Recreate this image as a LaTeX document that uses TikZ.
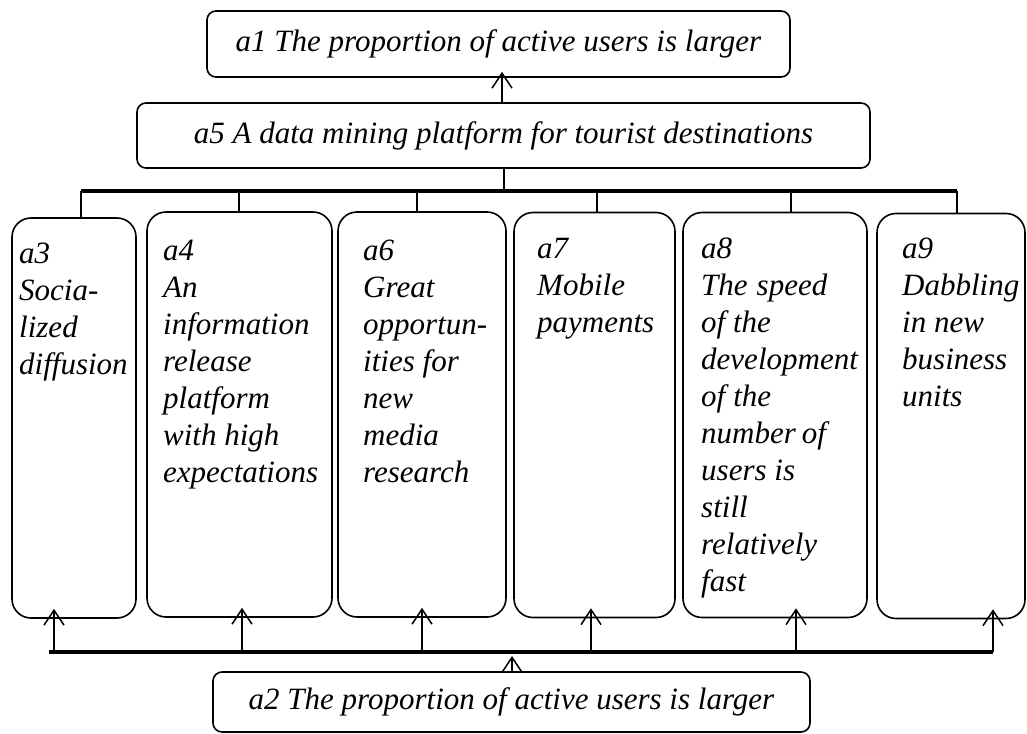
\documentclass[tikz,border=0pt]{standalone}
\usepackage{fontspec}
\setmainfont{Liberation Serif}
\usetikzlibrary{arrows.meta}
\begin{document}
\begin{tikzpicture}[x=1pt,y=-1pt,
  every node/.style={font=\fontsize{31}{37}\selectfont\itshape},
  wide/.style={draw, line width=1.6pt, rounded corners=9pt, inner sep=0pt},
  tall/.style={draw, line width=1.6pt, rounded corners=19pt, inner sep=0pt, minimum height=405pt},
  txt/.style={align=left, inner sep=0pt, anchor=north west},
  bus/.style={line width=3.2pt},
  tick/.style={line width=2.2pt},
  arr/.style={line width=1.5pt, -{Straight Barb[length=15pt,width=20pt,line width=1.5pt]}}
]
\useasboundingbox (0,0) rectangle (1027,733);

% top boxes
\node[wide, minimum width=583pt, minimum height=66pt] (a1) at (498.5,44) {a1 The proportion of active users is larger};
\node[wide, minimum width=733pt, minimum height=65pt] (a5) at (503.5,135.5) {a5 A data mining platform for tourist destinations};

% tall boxes
\node[tall, minimum width=124pt, minimum height=400pt] (a3) at (74,418) {};
\node[tall, minimum width=185pt] (a4) at (239.5,414.5) {};
\node[tall, minimum width=168pt] (a6) at (422,414.5) {};
\node[tall, minimum width=161pt] (a7) at (594.5,415) {};
\node[tall, minimum width=184pt] (a8) at (775,415) {};
\node[tall, minimum width=148pt] (a9) at (951,416) {};

\node[txt] (t3) at (19,243) {a3\\Socia-\\lized\\diffusion};
\node[txt] (t4) at (163,240) {a4\\An\\information\\release\\platform\\with high\\expectations};
\node[txt] (t6) at (363,240) {a6\\Great\\opportun-\\ities for\\new\\media\\research};
\node[txt] (t7) at (537,238) {a7\\Mobile\\payments};
\node[txt] (t8) at (701,238) {a8\\The\hspace{9pt}speed\\of the\\development\\of\hspace{8pt}the\\number\hspace{6pt}of\\users is\\still\\relatively\\fast};
\node[txt] (t9) at (902,238) {a9\\Dabbling\\in new\\business\\units};

% bottom box
\node[wide, minimum width=597pt, minimum height=60pt] (a2) at (511.5,702) {a2 The proportion of active users is larger};

% top connectors
\draw[arr] (a5.north -| 502,0) -- ([yshift=6pt]a1.south -| 502,0);
\coordinate (tb) at (504,191);
\draw[tick] (a5.south -| tb) -- (tb);
\coordinate (tL) at (81,191);
\coordinate (tR) at (957,191);
\draw[bus] (tL) -- (tR);
\foreach \x/\n in {81/a3,239/a4,417/a6,597/a7,791/a8,957/a9}{
  \draw[tick] (\x,191) -- (\n.north -| \x,0);
}

% bottom connectors
\coordinate (bL) at (49,652);
\coordinate (bR) at (993,652);
\draw[bus] (bL) -- (bR);
\foreach \x/\n in {54/a3,242/a4,422/a6,591/a7,796/a8,993/a9}{
  \draw[arr] (\x,652) -- ([yshift=10pt]\n.south -| \x,0);
}
\coordinate (c2) at (512,656);
\draw[arr] (a2.north -| c2) -- (c2);
\end{tikzpicture}
\end{document}
